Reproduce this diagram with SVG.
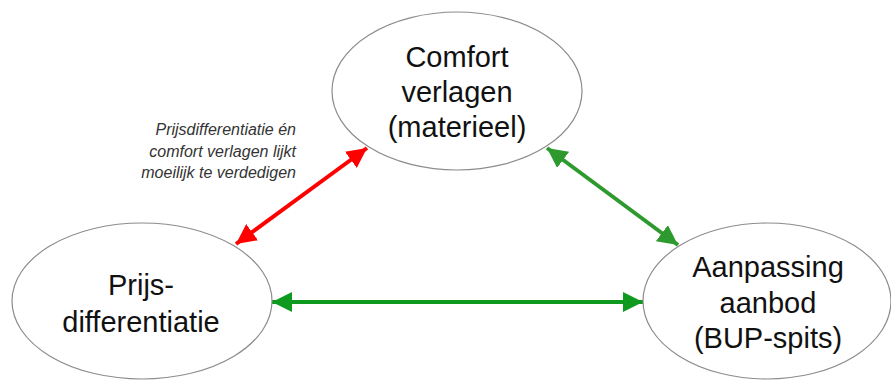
<svg xmlns="http://www.w3.org/2000/svg" width="891" height="380" viewBox="0 0 891 380">
<style>
.node ellipse{fill:#fff;stroke:#8c8c8c;stroke-width:1.2}
.lbl{font-family:"Liberation Sans",Arial,sans-serif;font-size:29px;fill:#111;text-anchor:middle}
.note{font-family:"Liberation Sans",Arial,sans-serif;font-size:16px;font-style:italic;fill:#333;text-anchor:end}
.red{stroke:#ff0000;stroke-width:4;fill:none}
.g1{stroke:#2e9a2e;stroke-width:4;fill:none}
.g2{stroke:#0d9a1f;stroke-width:4;fill:none}
</style>
<defs>
<marker id="hr" markerUnits="userSpaceOnUse" markerWidth="22" markerHeight="20" refX="20" refY="10" orient="auto-start-reverse"><path d="M0,0 L20,10 L0,20 Z" fill="#ff0000"/></marker>
<marker id="hg1" markerUnits="userSpaceOnUse" markerWidth="22" markerHeight="20" refX="20" refY="10" orient="auto-start-reverse"><path d="M0,0 L20,10 L0,20 Z" fill="#2e9a2e"/></marker>
<marker id="hg2" markerUnits="userSpaceOnUse" markerWidth="22" markerHeight="20" refX="20" refY="10" orient="auto-start-reverse"><path d="M0,0 L20,10 L0,20 Z" fill="#0d9a1f"/></marker>
</defs>
<rect width="891" height="380" fill="#fff"/>
<g id="connectors">
<line class="red" x1="236" y1="244" x2="367" y2="148" marker-start="url(#hr)" marker-end="url(#hr)"/>
<line class="g1" x1="547" y1="148" x2="678" y2="245" marker-start="url(#hg1)" marker-end="url(#hg1)"/>
<line class="g2" x1="272" y1="302" x2="643" y2="302" marker-start="url(#hg2)" marker-end="url(#hg2)"/>
</g>
<g id="node-comfort" class="node">
<ellipse cx="457" cy="91" rx="125" ry="79"/>
<text class="lbl" x="457" y="67">Comfort</text>
<text class="lbl" x="457" y="102">verlagen</text>
<text class="lbl" x="457" y="137">(materieel)</text>
</g>
<g id="node-prijs" class="node">
<ellipse cx="142" cy="301" rx="130" ry="78"/>
<text class="lbl" x="141" y="295">Prijs-</text>
<text class="lbl" x="141" y="332">differentiatie</text>
</g>
<g id="node-aanbod" class="node">
<ellipse cx="767" cy="301" rx="124" ry="78"/>
<text class="lbl" x="768" y="277">Aanpassing</text>
<text class="lbl" x="768" y="313">aanbod</text>
<text class="lbl" x="768" y="348">(BUP-spits)</text>
</g>
<g id="note">
<text class="note" x="296" y="135">Prijsdifferentiatie én</text>
<text class="note" x="296" y="157">comfort verlagen lijkt</text>
<text class="note" x="296" y="178">moeilijk te verdedigen</text>
</g>
</svg>
